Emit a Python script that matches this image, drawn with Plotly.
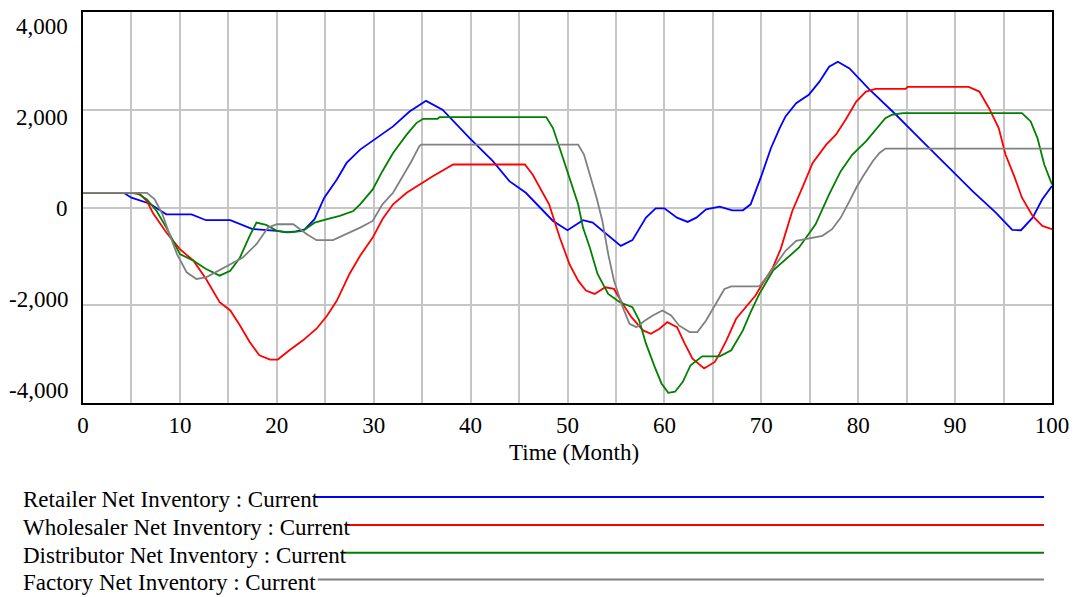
import plotly.graph_objects as go

# ---------------- data ----------------
retailer_t = [0, 4.2, 5, 6.9, 7.9, 8.6, 11.2, 12.7, 15.2, 17.5, 20, 21, 22, 22.9, 23.9, 24.9, 26.2, 27.2,
              28.6, 30.3, 32, 33.7, 35.4, 37.1, 39.9, 42.3, 44, 45.7, 47.5, 48.5, 50, 51.6, 52.6, 54,
              55.5, 56.7, 58.1, 59.1, 60, 61.3, 62.4, 63.3, 64.3, 65.7, 67, 68.1, 68.9, 70, 71, 71.9,
              72.5, 73.6, 74.9, 76, 77, 77.9, 79.1, 81.1, 83.9, 86.3, 89, 91.8, 94.2, 95.9, 96.8, 98,
              99, 100]
retailer_v = [300, 300, 200, 77, -50, -140, -140, -260, -260, -440, -480, -510, -490, -445, -240, 200, 575, 912,
              1185, 1421, 1660, 1965, 2182, 2000, 1421, 947, 540, 301, -71, -275, -465, -260, -310, -546,
              -784, -668, -207, -16, -16, -207, -295, -207, -37, 16, -57, -57, 65, 641, 1218, 1625,
              1863, 2134, 2305, 2575, 2881, 2983, 2846, 2427, 1898, 1421, 880, 336, -106, -458, -465, -207,
              167, 438]

wholesaler_t = [0, 5, 5.9, 6.6, 7.2, 7.9, 8.6, 10, 11.4, 12.7, 14.1, 15.2, 16.2, 17.2, 18.2, 19.3, 20.1,
                21.3, 22.7, 24.1, 25.2, 26.2, 27.5, 28.6, 29.9, 30.9, 32, 33.4, 34.7, 36.1, 38.2, 45.6,
                46.4, 47.3, 48.1, 49.2, 50.2, 51.1, 51.9, 52.8, 53.9, 54.8, 55.7, 56.6, 57.8, 58.6, 59.5,
                60.3, 61.3, 62.1, 62.9, 64.1, 65.2, 65.7, 66.4, 67.4, 68.4, 69.4, 70.1, 71.2, 72, 72.5,
                73.2, 74.3, 75.3, 76.7, 77.7, 78.7, 79.8, 80.8, 81.8, 84.9, 85.1, 91.4, 92.5, 93.5, 94.5,
                95.2, 96.1, 96.9, 98, 99, 100]
wholesaler_v = [300, 300, 269, 132, -106, -310, -513, -851, -1089, -1462, -1938, -2107, -2413, -2753, -3023, -3111, -3111,
                -2922, -2718, -2480, -2209, -1904, -1360, -987, -615, -240, 65, 301, 472, 641, 880, 880,
                676, 336, 65, -615, -1157, -1497, -1700, -1768, -1633, -1666, -1972, -2243, -2515, -2583, -2480,
                -2345, -2447, -2786, -3091, -3294, -3159, -2989, -2718, -2277, -2040, -1802, -1564, -1225, -851, -546,
                -71, 438, 912, 1286, 1490, 1795, 2168, 2372, 2427, 2427, 2467, 2467, 2372, 2032, 1625,
                1083, 641, 200, -173, -377, -444]

distributor_t = [0, 5.5, 6.6, 7.6, 8.6, 10, 11.4, 12.7, 14.1, 15.2, 16.2, 17.2, 17.9, 18.9, 20, 21.3, 22.7,
                 23.9, 25.2, 26.5, 27.9, 28.6, 29.9, 30.9, 32, 33.4, 34.4, 35.1, 36.6, 36.8, 47.8, 48.5,
                 49.3, 50.2, 51.1, 51.6, 52.3, 53.1, 54.2, 55.4, 56.7, 57.4, 58.1, 59, 59.7, 60.4, 61.1,
                 61.9, 62.7, 63.9, 65.7, 66.9, 68.1, 68.9, 69.8, 71.2, 72.5, 73.9, 75.6, 77, 78.2, 79.4,
                 80.8, 81.8, 82.8, 83.5, 84.6, 96.9, 97.8, 98.5, 99.2, 100]
distributor_v = [300, 300, 167, -71, -411, -953, -1089, -1258, -1395, -1293, -1022, -580, -310, -356, -478, -510, -478,
                 -310, -240, -173, -71, 65, 370, 743, 1116, 1490, 1727, 1815, 1815, 1849, 1849, 1625,
                 1150, 607, 65, -411, -818, -1360, -1768, -1938, -2040, -2311, -2786, -3261, -3600, -3791, -3770,
                 -3567, -3227, -3044, -3044, -2922, -2515, -2141, -1768, -1293, -1055, -818, -343, 269, 743, 1083,
                 1354, 1591, 1829, 1898, 1930, 1930, 1761, 1421, 880, 472]

factory_t = [0, 6.6, 7.4, 8.2, 8.8, 9.7, 10.7, 11.7, 12.7, 14, 15.2, 16.5, 17.9, 19.1, 20, 21.7, 23.1,
             24.1, 25.8, 27.2, 28.6, 29.9, 30.9, 32, 33.1, 33.9, 34.7, 34.9, 51.1, 51.7, 52.3, 53, 53.6,
             54.2, 54.8, 55.7, 56.4, 57.1, 58, 58.8, 59.8, 60.7, 61.5, 62.6, 63.4, 64.3, 65.7, 66.2, 66.9,
             69.8, 70.8, 72.5, 73.6, 74.9, 76.3, 77.3, 78.2, 79.1, 79.8, 80.5, 81.5, 82.2, 82.8, 100]
factory_v = [300, 300, 167, -139, -478, -953, -1327, -1462, -1429, -1293, -1157, -1022, -750, -411, -343, -343, -546,
             -668, -668, -546, -411, -275, 65, 301, 676, 947, 1252, 1286, 1286, 1083, 676, 200, -275,
             -953, -1497, -2040, -2379, -2447, -2311, -2209, -2107, -2209, -2413, -2549, -2549, -2311, -1836, -1666, -1612,
             -1612, -1360, -886, -682, -628, -580, -444, -207, 132, 404, 641, 947, 1116, 1205, 1205]

series_names = ["Retailer Net Inventory : Current",
                "Wholesaler Net Inventory : Current",
                "Distributor Net Inventory : Current",
                "Factory Net Inventory : Current"]
series_colors = ["#0000ff", "#ff0000", "#008000", "#808080"]

x_tick_vals = [0, 10, 20, 30, 40, 50, 60, 70, 80, 90, 100]
y_grid_vals = [-4000, -2000, 0, 2000, 4000]
y_tick_labels = ["4,000", "2,000", "0", "-2,000", "-4,000"]
x_title = "Time (Month)"

# ---------------- figure ----------------
W, H = 1079, 597
L, R, T, B = 83, 26, 10, 194
PW, PH = W - L - R, H - T - B
FONT = "Liberation Serif, Times New Roman, serif"
FS = 23


def px_x(px):
    return (px - L) / PW


def px_y(py):
    return (H - B - py) / PH


fig = go.Figure()
series = [(retailer_t, retailer_v), (wholesaler_t, wholesaler_v),
          (distributor_t, distributor_v), (factory_t, factory_v)]
for (t, v), name, col in zip(series, series_names, series_colors):
    fig.add_trace(go.Scatter(x=t, y=v, mode="lines", name=name,
                             line=dict(color=col, width=1.8), showlegend=False))

fig.update_layout(
    width=W, height=H,
    margin=dict(l=L, r=R, t=T, b=B),
    paper_bgcolor="white", plot_bgcolor="white",
    font=dict(family=FONT, size=FS, color="black"),
    xaxis=dict(range=[0, 100], tickmode="array", tickvals=x_tick_vals,
               showgrid=True, gridcolor="#c6c6c6", gridwidth=2,
               minor=dict(dtick=5, showgrid=True, gridcolor="#c6c6c6", gridwidth=2),
               showline=True, linecolor="black", linewidth=2, mirror=True,
               zeroline=False, ticks="", ticklabelstandoff=0,
               tickfont=dict(family=FONT, size=FS, color="black")),
    yaxis=dict(range=[-4000, 4000], tickmode="array", tickvals=y_grid_vals,
               showticklabels=False, showgrid=True, gridcolor="#c6c6c6", gridwidth=2,
               showline=True, linecolor="black", linewidth=2, mirror=True,
               zeroline=False, ticks=""),
)

annotations = []
# y tick labels: spread evenly inside the axis (Vensim style)
top_px, bot_px = 25, 390
n = len(y_tick_labels)
for i, lab in enumerate(y_tick_labels):
    py = top_px + (bot_px - top_px) * i / (n - 1)
    annotations.append(dict(text=lab, xref="paper", yref="paper", x=px_x(70), y=px_y(py),
                            xanchor="right", yanchor="middle", showarrow=False,
                            font=dict(family=FONT, size=FS, color="black")))
# x axis title
annotations.append(dict(text=x_title, xref="paper", yref="paper", x=px_x(575), y=px_y(453),
                        xanchor="center", yanchor="middle", showarrow=False,
                        font=dict(family=FONT, size=FS, color="black")))

# legend: text + line
legend_text_y = [500, 528, 556, 583]
legend_line_y = [497.5, 525.5, 553.5, 580.5]
legend_line_x0 = [315, 345, 341, 318]
shapes = []
for name, col, ty, ly, lx0 in zip(series_names, series_colors, legend_text_y, legend_line_y, legend_line_x0):
    annotations.append(dict(text=name, xref="paper", yref="paper", x=px_x(21), y=px_y(ty),
                            xanchor="left", yanchor="middle", showarrow=False,
                            font=dict(family=FONT, size=FS, color="black")))
    shapes.append(dict(type="line", xref="paper", yref="paper", x0=px_x(lx0), x1=px_x(1045),
                       y0=px_y(ly), y1=px_y(ly), line=dict(color=col, width=2)))

fig.update_layout(annotations=annotations, shapes=shapes)
fig.write_html("out.html")
